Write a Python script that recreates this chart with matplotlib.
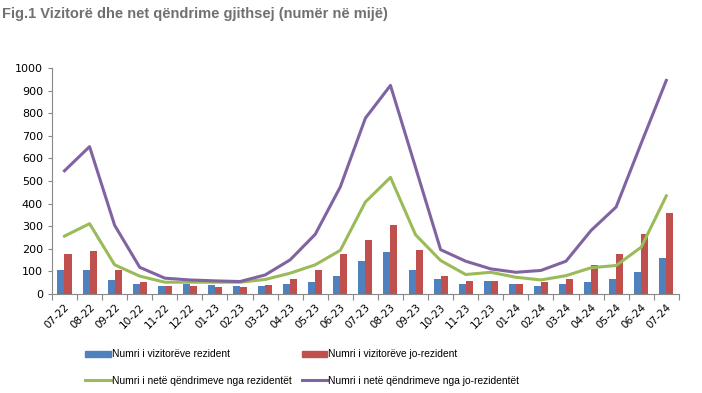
import numpy as np
import matplotlib
matplotlib.use("Agg")
from matplotlib import pyplot as plt
from matplotlib.patches import Patch
from matplotlib.lines import Line2D

months = ["07-22", "08-22", "09-22", "10-22", "11-22", "12-22", "01-23", "02-23",
          "03-23", "04-23", "05-23", "06-23", "07-23", "08-23", "09-23", "10-23",
          "11-23", "12-23", "01-24", "02-24", "03-24", "04-24", "05-24", "06-24", "07-24"]

vizitore_rezident = [104, 108, 64, 44, 34, 44, 39, 34, 34, 44, 55, 79, 148, 184, 104, 68,
                     44, 59, 44, 34, 44, 55, 65, 95, 161]
vizitore_jo_rezident = [175, 188, 108, 55, 34, 34, 30, 30, 40, 65, 108, 178, 237, 307, 193, 79,
                        59, 59, 44, 55, 65, 129, 178, 267, 360]
qendrime_rezident = [256, 311, 129, 79, 52, 52, 52, 52, 64, 92, 129, 193, 407, 516, 262, 148,
                     86, 96, 74, 62, 81, 116, 126, 207, 434]
qendrime_jo_rezident = [545, 652, 304, 118, 70, 62, 58, 55, 84, 151, 264, 474, 778, 923, 560, 196,
                        145, 111, 96, 104, 145, 281, 385, 667, 945]

c_blue, c_red, c_green, c_purple = "#4F81BD", "#C0504D", "#9BBB59", "#8064A2"

fig = plt.figure(figsize=(7.02, 3.93), dpi=100)
ax = fig.add_axes([0.074, 0.252, 0.893, 0.575])

x = np.arange(len(months))
w = 0.28
ax.bar(x - w / 2, vizitore_rezident, w, color=c_blue)
ax.bar(x + w / 2, vizitore_jo_rezident, w, color=c_red)
ax.plot(x, qendrime_rezident, color=c_green, lw=2.2)
ax.plot(x, qendrime_jo_rezident, color=c_purple, lw=2.2)

ax.set_xlim(-0.5, len(months) - 0.5)
ax.set_ylim(0, 1000)
ax.set_yticks(range(0, 1001, 100))
ax.tick_params(axis="y", labelsize=8, length=3, color="#888888", direction="out")

ax.set_xticks(np.arange(len(months) + 1) - 0.5)
ax.set_xticklabels([])
ax.set_xticks(x, minor=True)
ax.set_xticklabels(months, minor=True, rotation=45, ha="right", rotation_mode="anchor", fontsize=7.5)
ax.tick_params(axis="x", which="major", length=4, color="#888888", direction="out")
ax.tick_params(axis="x", which="minor", length=0, pad=6)

for s in ["top", "right"]:
    ax.spines[s].set_visible(False)
for s in ["left", "bottom"]:
    ax.spines[s].set_color("#888888")

fig.text(0.003, 0.965, "Fig.1 Vizitorë dhe net qëndrime gjithsej (numër në mijë)",
         fontsize=10.5, fontweight="bold", color="#707070", va="center",
         family=["Liberation Sans", "DejaVu Sans"])

# ncol=2 fills by column: order blue, green | red, purple
handles = [Patch(color=c_blue), Line2D([], [], color=c_green, lw=2.2),
           Patch(color=c_red), Line2D([], [], color=c_purple, lw=2.2)]
labels = ["Numri i vizitorëve rezident", "Numri i netë qëndrimeve nga rezidentët",
          "Numri i vizitorëve jo-rezident", "Numri i netë qëndrimeve nga jo-rezidentët"]
fig.legend(handles, labels, ncol=2, loc="lower left", bbox_to_anchor=(0.121, 0.018),
           frameon=False, prop={"family": "Liberation Sans", "size": 7.4},
           handlelength=2.5, handleheight=0.6, handletextpad=0.1,
           columnspacing=1.0, labelspacing=1.6, borderpad=0, borderaxespad=0)

fig.savefig("out.png", dpi=100)
